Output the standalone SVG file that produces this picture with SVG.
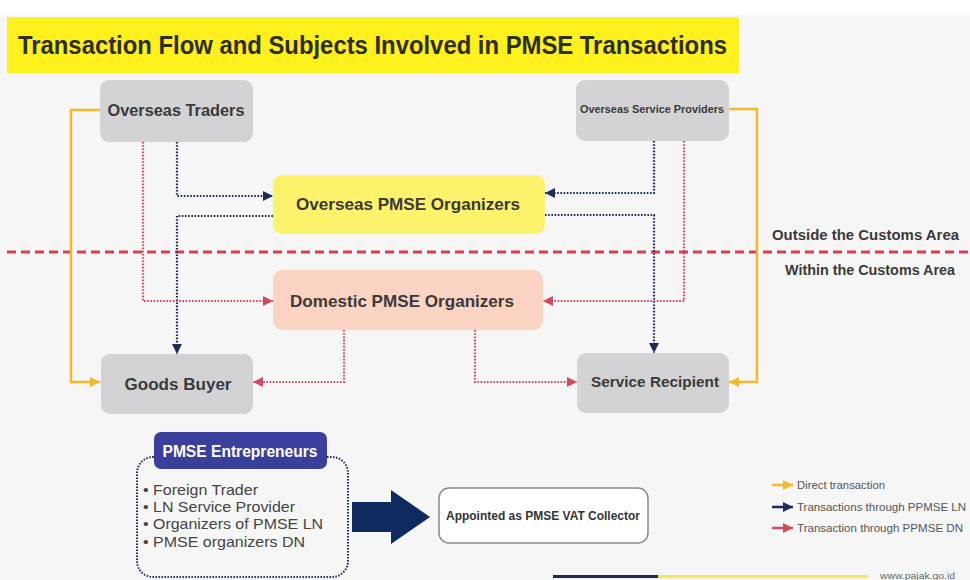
<svg xmlns="http://www.w3.org/2000/svg" width="970" height="580" viewBox="0 0 970 580">
  <defs>
    <style>
      .t { font-family: "Liberation Sans", Arial, sans-serif; }
      .nb { font-weight: bold; fill: #3a3a3a; text-anchor: middle; }
      .gray { fill: #d3d3d5; }
      .yel { fill: none; stroke: #f4b829; stroke-width: 2.5; }
      .navy { fill: none; stroke: #1e2b5e; stroke-width: 2.2; stroke-dasharray: 1.6 1.6; }
      .red { fill: none; stroke: #d34a5c; stroke-width: 2.2; stroke-dasharray: 1.6 1.6; }
      .leg { font-size: 11px; fill: #555; }
      .bul { font-size: 15px; fill: #444; }
    </style>
    <marker id="aY" markerUnits="userSpaceOnUse" markerWidth="12" markerHeight="12" refX="10" refY="6" orient="auto">
      <path d="M0,1 L10,6 L0,11 Z" fill="#f4b829"/>
    </marker>
    <marker id="aN" markerUnits="userSpaceOnUse" markerWidth="12" markerHeight="12" refX="10" refY="6" orient="auto">
      <path d="M0,1 L10,6 L0,11 Z" fill="#1e2b5e"/>
    </marker>
    <marker id="aR" markerUnits="userSpaceOnUse" markerWidth="12" markerHeight="12" refX="10" refY="6" orient="auto">
      <path d="M0,1 L10,6 L0,11 Z" fill="#d34a5c"/>
    </marker>
  </defs>

  <rect x="0" y="0" width="970" height="580" fill="#ffffff"/>
  <rect x="0" y="15" width="970" height="565" fill="#f6f6f6"/>

  <g id="title">
    <rect x="7" y="17" width="732" height="56" fill="#fdf01c"/>
    <text class="t" x="18" y="54" font-size="25" font-weight="bold" fill="#2e2e22" textLength="709" lengthAdjust="spacingAndGlyphs">Transaction Flow and Subjects Involved in PMSE Transactions</text>
  </g>

  <g id="divider">
    <line x1="7" y1="252" x2="970" y2="252" stroke="#d9404f" stroke-width="3" stroke-dasharray="9 5"/>
    <text class="t" x="772" y="240" font-size="14" font-weight="bold" fill="#3a3a3a" textLength="187" lengthAdjust="spacingAndGlyphs">Outside the Customs Area</text>
    <text class="t" x="785" y="275" font-size="14" font-weight="bold" fill="#3a3a3a" textLength="170" lengthAdjust="spacingAndGlyphs">Within the Customs Area</text>
  </g>

  <g id="connectors">
    <path class="yel" d="M100,110 H71 V382 H100" marker-end="url(#aY)"/>
    <path class="yel" d="M729,109 H757 V382 H729" marker-end="url(#aY)"/>
    <path class="navy" d="M177,142 V196 H273" marker-end="url(#aN)"/>
    <path class="navy" d="M273,216 H177 V354" marker-end="url(#aN)"/>
    <path class="navy" d="M654,141 V193 H545" marker-end="url(#aN)"/>
    <path class="navy" d="M545,215 H654 V353" marker-end="url(#aN)"/>
    <path class="red" d="M143,142 V301 H273" marker-end="url(#aR)"/>
    <path class="red" d="M684,141 V301 H543" marker-end="url(#aR)"/>
    <path class="red" d="M344,330 V382 H253" marker-end="url(#aR)"/>
    <path class="red" d="M475,330 V382 H577" marker-end="url(#aR)"/>
  </g>

  <g id="overseas-traders">
    <rect class="gray" x="100" y="80" width="153" height="62" rx="9"/>
    <text class="t nb" x="176" y="116" font-size="16" textLength="137" lengthAdjust="spacingAndGlyphs">Overseas Traders</text>
  </g>

  <g id="overseas-service-providers">
    <rect class="gray" x="576" y="80" width="153" height="61" rx="9"/>
    <text class="t nb" x="652" y="113" font-size="10.5" textLength="144" lengthAdjust="spacingAndGlyphs">Overseas Service Providers</text>
  </g>

  <g id="overseas-pmse-organizers">
    <rect x="273" y="175" width="272" height="59" rx="9" fill="#fdf26c"/>
    <text class="t nb" x="408" y="210" font-size="17" textLength="224" lengthAdjust="spacingAndGlyphs">Overseas PMSE Organizers</text>
  </g>

  <g id="domestic-pmse-organizers">
    <rect x="273" y="270" width="270" height="60" rx="9" fill="#fbd3c2"/>
    <text class="t nb" x="402" y="307" font-size="17" textLength="224" lengthAdjust="spacingAndGlyphs">Domestic PMSE Organizers</text>
  </g>

  <g id="goods-buyer">
    <rect class="gray" x="101" y="354" width="152" height="60" rx="9"/>
    <text class="t nb" x="178" y="390" font-size="17" textLength="107" lengthAdjust="spacingAndGlyphs">Goods Buyer</text>
  </g>

  <g id="service-recipient">
    <rect class="gray" x="577" y="353" width="152" height="60" rx="9"/>
    <text class="t nb" x="655" y="387" font-size="15.5" textLength="128" lengthAdjust="spacingAndGlyphs">Service Recipient</text>
  </g>

  <g id="pmse-entrepreneurs">
    <rect x="137" y="457" width="211" height="120" rx="16" fill="none" stroke="#1e2b5e" stroke-width="2" stroke-dasharray="1.5 1.5"/>
    <rect x="154" y="432" width="173" height="37" rx="7" fill="#3b3f9c"/>
    <text class="t" x="240" y="457" font-size="16" font-weight="bold" fill="#ffffff" text-anchor="middle" textLength="155" lengthAdjust="spacingAndGlyphs">PMSE Entrepreneurs</text>
    <text class="t bul" x="143" y="495" textLength="115" lengthAdjust="spacingAndGlyphs">• Foreign Trader</text>
    <text class="t bul" x="143" y="512" textLength="152" lengthAdjust="spacingAndGlyphs">• LN Service Provider</text>
    <text class="t bul" x="143" y="529" textLength="180" lengthAdjust="spacingAndGlyphs">• Organizers of PMSE LN</text>
    <text class="t bul" x="143" y="547" textLength="162" lengthAdjust="spacingAndGlyphs">• PMSE organizers DN</text>
  </g>

  <g id="big-arrow">
    <polygon points="352,502 391,502 391,490 430,517 391,544 391,532 352,532" fill="#0e2a5e"/>
  </g>

  <g id="vat-collector">
    <rect x="439" y="488" width="209" height="55" rx="10" fill="#ffffff" stroke="#8a8a8a" stroke-width="1.5"/>
    <text class="t" x="543" y="520" font-size="12" font-weight="bold" fill="#333" text-anchor="middle" textLength="194" lengthAdjust="spacingAndGlyphs">Appointed as PMSE VAT Collector</text>
  </g>

  <g id="legend">
    <line x1="772" y1="485" x2="793" y2="485" stroke="#f4b829" stroke-width="2.5" marker-end="url(#aY)"/>
    <text class="t leg" x="797" y="489" textLength="88" lengthAdjust="spacingAndGlyphs">Direct transaction</text>
    <line x1="772" y1="507" x2="793" y2="507" stroke="#1e2b5e" stroke-width="2.5" marker-end="url(#aN)"/>
    <text class="t leg" x="797" y="511" textLength="169" lengthAdjust="spacingAndGlyphs">Transactions through PPMSE LN</text>
    <line x1="772" y1="528" x2="793" y2="528" stroke="#d34a5c" stroke-width="2.5" marker-end="url(#aR)"/>
    <text class="t leg" x="797" y="532" textLength="166" lengthAdjust="spacingAndGlyphs">Transaction through PPMSE DN</text>
  </g>

  <g id="footer">
    <line x1="553" y1="576.5" x2="658" y2="576.5" stroke="#1e2b5e" stroke-width="3"/>
    <line x1="658" y1="576.5" x2="868" y2="576.5" stroke="#fbe54a" stroke-width="3"/>
    <text class="t" x="880" y="579" font-size="9" fill="#666" textLength="75" lengthAdjust="spacingAndGlyphs">www.pajak.go.id</text>
  </g>
</svg>
